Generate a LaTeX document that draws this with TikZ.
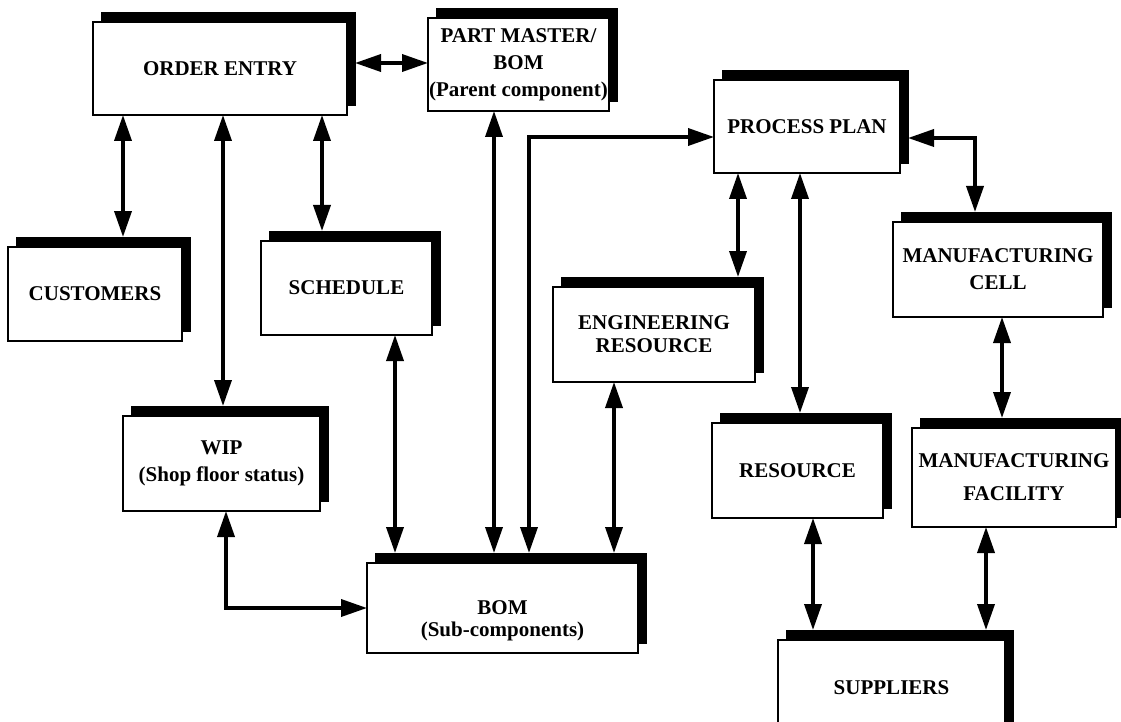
\documentclass[tikz,border=0pt]{standalone}
\usepackage{fontspec}
\setmainfont{Liberation Serif}
\usetikzlibrary{arrows.meta}

% record box: black offset shadow node (<name>S) under a white framed node (<name>)
% #1 extra options, #2 name, #3 centre, #4 width, #5 height, #6 text
\newcommand\recbox[6][]{%
  \node[boxshadow, minimum width=#4pt, minimum height=#5pt, xshift=8pt, yshift=10pt] (#2S) at (#3) {};
  \node[databox, minimum width=#4pt, minimum height=#5pt, #1] (#2) at (#3) {#6};
}

\begin{document}
\begin{tikzpicture}[x=1pt, y=-1pt,
  every node/.style={inner sep=0pt, outer sep=0pt},
  boxfont/.style={font=\fontsize{21pt}{#1}\selectfont\bfseries},
  boxfont/.default=27pt,
  databox/.style={rectangle, draw=black, fill=white, line width=2.4pt, align=center, boxfont},
  boxshadow/.style={rectangle, fill=black, draw=black, line width=0.8pt},
  biarrow/.style={line width=3.6pt,
    {Triangle[length=26pt,width=17pt]}-{Triangle[length=26pt,width=17pt]}}
]
\useasboundingbox (0,0) rectangle (1121,722);
\clip (0,0) rectangle (1121,722);

% ---- records ----
\recbox{oe}{220,68.5}{254}{93}{ORDER ENTRY}
\recbox{pm}{518.5,64.5}{181}{93}{PART MASTER/\\BOM\\(Parent component)}
\recbox{pp}{807,126.5}{186}{93}{PROCESS PLAN}
\recbox{cust}{95,294}{174}{94}{CUSTOMERS}
\recbox{sched}{346.5,288}{171}{94}{SCHEDULE}
\recbox[boxfont=23pt]{er}{654,334.5}{202}{95}{ENGINEERING\\RESOURCE}
\recbox{mc}{998,269.5}{210}{95}{MANUFACTURING\\CELL}
\recbox{wip}{221.5,463.5}{197}{95}{WIP\\(Shop floor status)}
\recbox{res}{797.5,470.5}{171}{95}{RESOURCE}
\recbox[boxfont=33pt]{mf}{1014,477.5}{204}{99}{MANUFACTURING\\FACILITY}
\recbox{bom}{502.5,608}{271}{90}{}
\node[align=center, boxfont=22pt] (bomtext) at ([yshift=-13pt]bom.center) {BOM\\(Sub-components)};
\recbox{sup}{891.5,687.5}{227}{95}{SUPPLIERS}

% ---- links ----
\draw[biarrow] (oeS.east |- 0,63) -- (pm.west |- 0,63);
\draw[biarrow] (oe.south -| 123,0) -- (custS.north -| 123,0);
\draw[biarrow] (oe.south -| 223,0) -- (wipS.north -| 223,0);
\draw[biarrow] (oe.south -| 322,0) -- (schedS.north -| 322,0);
\draw[biarrow] (sched.south -| 395,0) -- (bomS.north -| 395,0);
\draw[biarrow] (pm.south -| 494,0) -- (bomS.north -| 494,0);
\draw[biarrow] (bomS.north -| 529,0) |- (pp.west |- 0,137);
\draw[biarrow] (er.south -| 614,0) -- (bomS.north -| 614,0);
\draw[biarrow] (wip.south -| 226,0) |- (bom.west);
\draw[biarrow] (pp.south -| 738,0) -- (erS.north -| 738,0);
\draw[biarrow] (pp.south -| 800,0) -- (resS.north -| 800,0);
\draw[biarrow] (ppS.east |- 0,138) -| (mcS.north -| 975,0);
\draw[biarrow] (mc.south -| 1002,0) -- (mfS.north -| 1002,0);
\draw[biarrow] (res.south -| 813,0) -- (supS.north -| 813,0);
\draw[biarrow] (mf.south -| 986,0) -- (supS.north -| 986,0);
\end{tikzpicture}
\end{document}
